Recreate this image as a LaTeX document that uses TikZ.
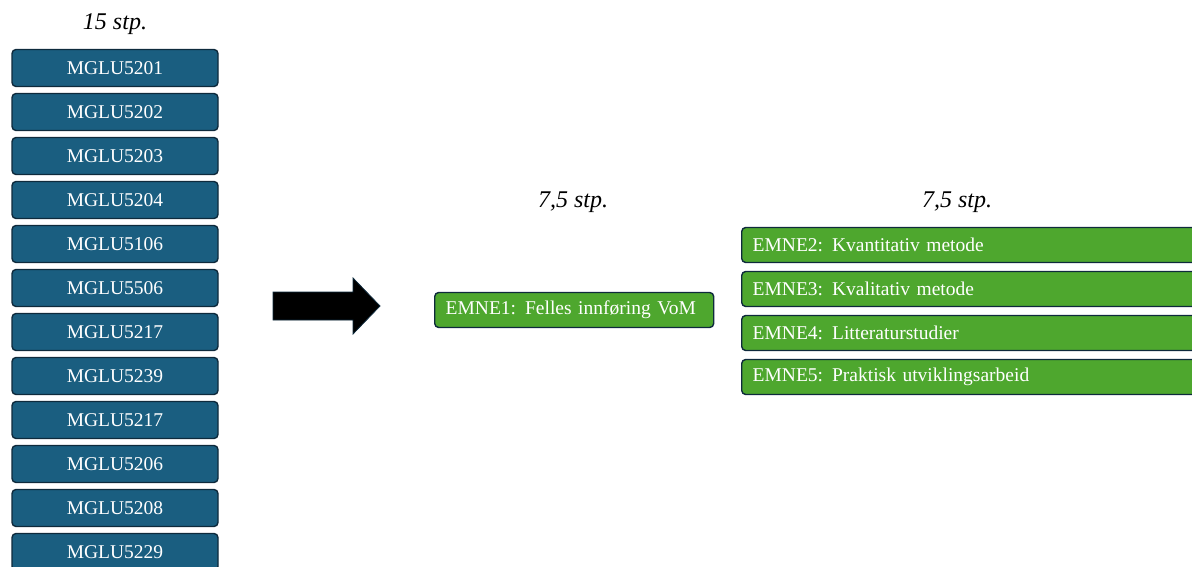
\documentclass[tikz,border=0pt]{standalone}
\usepackage{fontspec}
\setmainfont{Liberation Serif}
\usetikzlibrary{positioning}

\definecolor{mglublue}{HTML}{1A5E80}
\definecolor{emnegreen}{HTML}{4EA72E}
\definecolor{boxedge}{HTML}{0E2A3C}

\newcommand{\emnegap}{\hspace{9pt}}

\tikzset{
  mglubox/.style = {draw=boxedge, line width=1.4pt, fill=mglublue, rounded corners=4pt,
    minimum width=206pt, minimum height=37pt, inner sep=0pt, text=white, font=\fontsize{19.5}{21}\selectfont},
  emnebox/.style = {draw=boxedge, line width=1.4pt, fill=emnegreen, rounded corners=4pt,
    minimum height=35pt, inner xsep=11pt, inner ysep=0pt, text=white, align=left,
    font=\fontsize{19.5}{21}\selectfont},
  stplabel/.style = {font=\itshape\fontsize{24}{26}\selectfont}
}

\begin{document}
\begin{tikzpicture}[x=1pt, y=-1pt]
  \useasboundingbox (0,0) rectangle (1192,567);
  \clip (0,0) rectangle (1192,567);

  % left column
  \node[stplabel] (stpA) at (115,24) {15 stp.};
  \foreach \code [count=\i from 0] in {MGLU5201,MGLU5202,MGLU5203,MGLU5204,MGLU5106,MGLU5506,
      MGLU5217,MGLU5239,MGLU5217,MGLU5206,MGLU5208,MGLU5229}
    \node[mglubox] (mglu\i) at (115,68+44*\i) {\code};

  % arrow
  \fill[black, draw=boxedge, line width=0.8pt] (273,292) -- (353,292) -- (353,278) -- (380,306)
    -- (353,334) -- (353,320) -- (273,320) -- cycle;

  % middle
  \node[stplabel] (stpB) at (573,202) {7,5 stp.};
  \node[emnebox, text width=257pt, anchor=west] (emne1) at (434,310) {EMNE1:\emnegap Felles innføring VoM};

  % right column
  \node[stplabel] (stpC) at (957,202) {7,5 stp.};
  \node[emnebox, text width=442pt, anchor=west] (emne2) at (741,245) {EMNE2:\emnegap Kvantitativ metode};
  \node[emnebox, text width=442pt, below=7.6pt of emne2] (emne3) {EMNE3:\emnegap Kvalitativ metode};
  \node[emnebox, text width=442pt, below=7.6pt of emne3] (emne4) {EMNE4:\emnegap Litteraturstudier};
  \node[emnebox, text width=442pt, below=7.6pt of emne4] (emne5) {EMNE5:\emnegap Praktisk utviklingsarbeid};
\end{tikzpicture}
\end{document}
